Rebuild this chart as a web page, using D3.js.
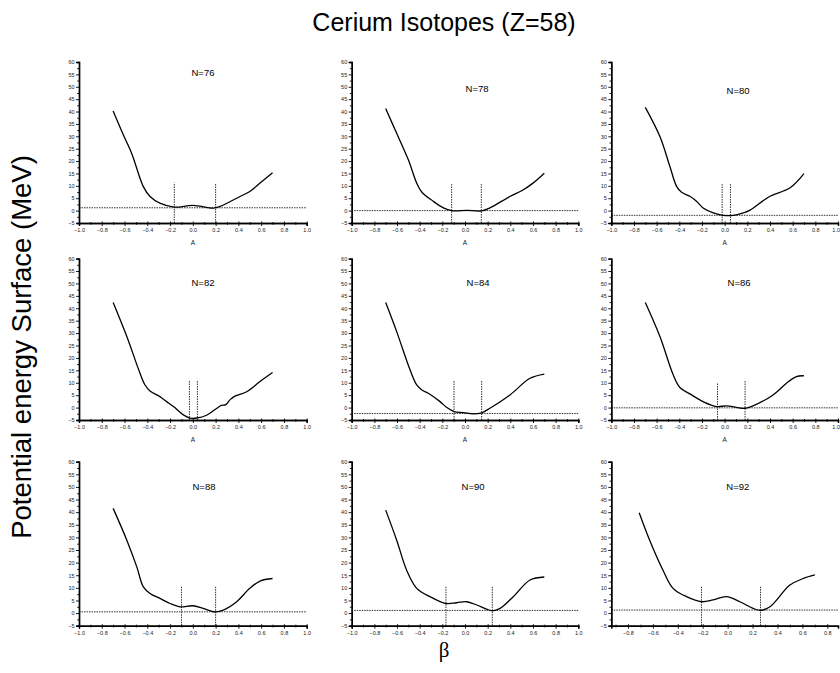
<!DOCTYPE html>
<html><head><meta charset="utf-8">
<script src="https://cdn.jsdelivr.net/npm/d3@7/dist/d3.min.js"></script>
<style>body{margin:0;background:#fff}svg{display:block}</style>
</head><body>
<script>
// ---------- DATA ----------
const labels = ["N=76","N=78","N=80","N=82","N=84","N=86","N=88","N=90","N=92"];
const n76 = [[-0.70,40.2],[-0.61,30.5],[-0.537,23.1],[-0.435,9.7],[-0.376,5.7],[-0.29,3.0],[-0.163,1.4],[0.0,2.1],[0.18,1.0],[0.24,1.7],[0.414,5.7],[0.5,7.7],[0.59,11.1],[0.70,15.3]];
const n78 = [[-0.70,41.2],[-0.603,31.2],[-0.5,20.5],[-0.426,11.1],[-0.38,7.4],[-0.28,3.75],[-0.19,1.1],[-0.118,0.0],[0.015,0.1],[0.147,-0.1],[0.22,1.1],[0.4,5.8],[0.5,8.0],[0.6,11.1],[0.70,15.1]];
const n80 = [[-0.70,41.7],[-0.571,29.9],[-0.483,17.8],[-0.424,9.8],[-0.38,7.4],[-0.307,5.8],[-0.248,3.75],[-0.19,1.07],[-0.1,-0.9],[-0.013,-1.9],[0.075,-1.9],[0.163,-0.9],[0.22,0.1],[0.4,5.8],[0.575,9.1],[0.70,14.9]];
const n82 = [[-0.70,42.3],[-0.58,28.6],[-0.464,13.8],[-0.42,9.1],[-0.376,6.7],[-0.29,4.4],[-0.23,2.4],[-0.17,0.4],[-0.083,-2.95],[-0.025,-4.2],[0.034,-4.2],[0.12,-3.1],[0.21,-0.27],[0.25,0.9],[0.29,1.2],[0.33,3.3],[0.37,4.6],[0.473,6.4],[0.59,10.5],[0.70,14.1]];
const n84 = [[-0.70,42.3],[-0.603,30.6],[-0.485,15.2],[-0.426,9.1],[-0.38,7.1],[-0.31,5.4],[-0.22,2.4],[-0.16,0.0],[-0.096,-1.6],[-0.015,-2.0],[0.073,-2.55],[0.147,-2.1],[0.22,-0.27],[0.397,5.1],[0.574,11.8],[0.70,13.5]];
const n86 = [[-0.70,42.3],[-0.571,28.6],[-0.454,13.2],[-0.395,8.1],[-0.307,5.5],[-0.19,2.4],[-0.072,0.4],[0.016,0.7],[0.104,0.1],[0.178,-0.3],[0.25,0.7],[0.427,5.1],[0.545,9.8],[0.633,12.5],[0.70,12.8]];
const n88 = [[-0.70,41.5],[-0.58,28.9],[-0.493,18.4],[-0.435,10.4],[-0.376,7.8],[-0.29,5.8],[-0.2,3.8],[-0.113,2.5],[0.0,2.9],[0.09,1.85],[0.195,0.5],[0.268,1.2],[0.385,4.5],[0.5,9.8],[0.59,12.7],[0.70,13.7]];
const n90 = [[-0.70,40.8],[-0.603,28.9],[-0.515,17.0],[-0.426,9.8],[-0.309,6.5],[-0.168,3.8],[-0.074,4.1],[0.015,4.5],[0.103,3.2],[0.19,1.6],[0.24,0.9],[0.31,1.85],[0.426,6.5],[0.574,13.1],[0.70,14.3]];
const n92 = [[-0.71,39.8],[-0.626,28.9],[-0.519,17.0],[-0.438,9.8],[-0.33,6.5],[-0.21,4.5],[-0.117,5.2],[-0.01,6.5],[0.098,4.5],[0.205,1.85],[0.264,1.06],[0.34,2.5],[0.5,11.1],[0.607,13.7],[0.70,15.1]];
const curves = [n76,n78,n80,n82,n84,n86,n88,n90,n92];
// minimum energy level (horizontal dotted line); null = not shown
const minLevel = [1.15, 0.0, -1.9, null, -2.4, -0.1, 0.5, 1.06, 1.2];
// deformation of the two minima (vertical dotted lines)
const betaLeft  = [-0.163, -0.118, -0.022, -0.03, -0.097, -0.063, -0.10, -0.168, -0.21];
const betaRight = [ 0.20,   0.144,  0.051,  0.04,  0.147,  0.18,   0.20,  0.241,  0.264];
const vTopLeft  = [11.3, 10.7, 10.7, 10.7, 10.7, 9.8, 10.7, 10.7, 10.7];
const vTopRight = [10.8, 10.7, 10.7, 10.7, 10.7, 10.7, 10.7, 10.7, 10.7];
const yTicks = [-5,0,5,10,15,20,25,30,35,40,45,50,55,60];
const xTicks = [-1.0,-0.8,-0.6,-0.4,-0.2,0.0,0.2,0.4,0.6,0.8,1.0];
const xTicksLast = [-0.8,-0.6,-0.4,-0.2,0.0,0.2,0.4,0.6,0.8];

// ---------- LAYOUT ----------
const W = 840, H = 673;
const colL = [79, 351.7, 611.3], colR = [306.7, 578.3, 838];
const rowT = [62, 258.6, 461.7], rowB = [223, 420, 625.7];
const labelPos = [[0.089,55.2],[0.106,49.1],[0.118,47.9],[0.089,49.8],[0.115,49.8],[0.127,49.8],[0.098,49.6],[0.071,49.6],[0.082,49.6]];

const svg = d3.select("body").append("svg").attr("width", W).attr("height", H)
  .style("font-family", "'Liberation Sans', Arial, sans-serif");

svg.append("text").attr("x", 444).attr("y", 31).attr("text-anchor", "middle")
  .attr("font-size", 25).attr("fill", "#000").text("Cerium Isotopes (Z=58)");
svg.append("text").attr("transform", "translate(31,347) rotate(-90)").attr("text-anchor", "middle")
  .attr("font-size", 27.5).attr("fill", "#000").text("Potential energy Surface (MeV)");
svg.append("text").attr("x", 444).attr("y", 657).attr("text-anchor", "middle")
  .attr("font-family", "'Liberation Serif', 'Times New Roman', serif")
  .attr("font-size", 21).attr("fill", "#000").text("β");

const line = d3.line().curve(d3.curveCatmullRom.alpha(0.5));

curves.forEach((data, i) => {
  const r = Math.floor(i / 3), c = i % 3;
  const last = (i === 8);
  const xDom = last ? [-0.934, 0.886] : [-1, 1];
  const x = d3.scaleLinear().domain(xDom).range([colL[c], colR[c]]);
  const y = d3.scaleLinear().domain([-5, 60]).range([rowB[r], rowT[r]]);
  const g = svg.append("g");

  // dotted reference lines
  if (minLevel[i] !== null) {
    g.append("line").attr("x1", x(xDom[0])).attr("x2", x(xDom[1]))
      .attr("y1", y(minLevel[i])).attr("y2", y(minLevel[i]))
      .attr("stroke", "#333").attr("stroke-width", 1).attr("stroke-dasharray", "1.5,1");
  }
  [[betaLeft[i], vTopLeft[i]], [betaRight[i], vTopRight[i]]].forEach(([b, t]) => {
    g.append("line").attr("x1", x(b)).attr("x2", x(b)).attr("y1", y(-5)).attr("y2", y(t))
      .attr("stroke", "#333").attr("stroke-width", 1).attr("stroke-dasharray", "1.5,1");
  });

  // curve
  line.x(d => x(d[0])).y(d => y(d[1]));
  g.append("path").datum(data).attr("d", line).attr("fill", "none")
    .attr("stroke", "#000").attr("stroke-width", 1.3);

  // y axis
  const ya = g.append("g").attr("transform", `translate(${colL[c]},0)`)
    .call(d3.axisLeft(y).tickValues(yTicks).tickSize(3).tickPadding(1.5).tickFormat(d3.format("d")));
  const ym = g.append("g").attr("transform", `translate(${colL[c]},0)`)
    .call(d3.axisLeft(y).tickValues(d3.range(-2.5, 60, 5)).tickSize(1.8).tickFormat(""));
  // x axis
  const xa = g.append("g").attr("transform", `translate(0,${rowB[r]})`)
    .call(d3.axisBottom(x).tickValues(last ? xTicksLast : xTicks).tickSize(3).tickPadding(2)
      .tickFormat(d3.format(".1f")));
  const minorX = d3.range(-0.9, 1.0, 0.2).filter(v => v >= xDom[0] && v <= xDom[1]);
  const xm = g.append("g").attr("transform", `translate(0,${rowB[r]})`)
    .call(d3.axisBottom(x).tickValues(minorX).tickSize(1.8).tickFormat(""));
  [ya, ym, xa, xm].forEach(a => {
    a.selectAll(".domain").attr("stroke", "#000").attr("stroke-width", 1.4);
    a.selectAll(".tick line").attr("stroke", "#000").attr("stroke-width", 0.9);
    a.selectAll("text").attr("font-size", 5.5).attr("fill", "#222")
      .attr("font-family", "'Liberation Sans', Arial, sans-serif");
  });
  xa.selectAll(".tick line").attr("y1", -1.5);
  xm.selectAll(".tick line").attr("y1", -1);
  if (c === 2) {
    // keep the right-edge label inside the page
    xa.selectAll(".tick text").filter(d => d === 1.0).attr("text-anchor", "end").attr("dx", 1.5);
  }

  if (r < 2) {
    g.append("text").attr("x", (colL[c] + colR[c]) / 2).attr("y", rowB[r] + 22)
      .attr("text-anchor", "middle").attr("font-size", 6.5).attr("fill", "#222").text("A");
  }
  g.append("text").attr("x", x(labelPos[i][0])).attr("y", y(labelPos[i][1]))
    .attr("text-anchor", "middle").attr("dominant-baseline", "middle")
    .attr("font-size", 9.5).attr("fill", "#000").text(labels[i]);
});
</script>
</body></html>
